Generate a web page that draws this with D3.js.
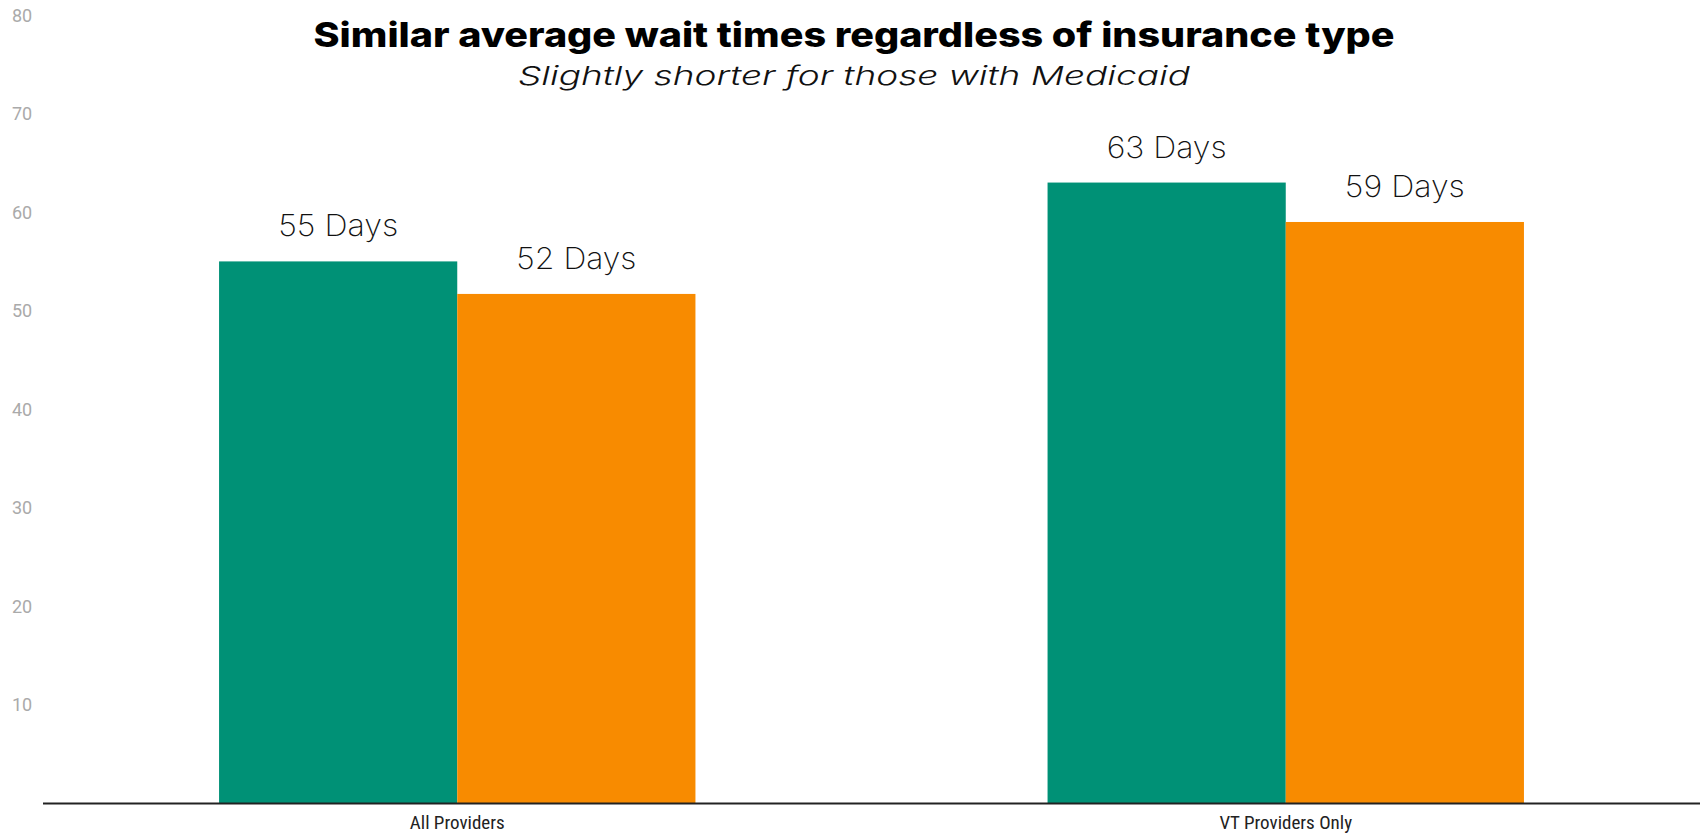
<!DOCTYPE html>
<html>
<head>
<meta charset="utf-8">
<script src="https://cdn.jsdelivr.net/npm/d3@7"></script>
<style>
  html, body { margin: 0; padding: 0; background: #fff; }
  svg { display: block; }
</style>
</head>
<body>
<svg id="chart" width="1700" height="835"></svg>
<script>
// ---- data ----
const categories = ["All Providers", "VT Providers Only"];
const seriesNames = ["Other insurance", "Medicaid"];
const seriesValues = [
  [55, 63],    // green series
  [51.7, 59]   // orange series
];
const yTicks = [10, 20, 30, 40, 50, 60, 70, 80];
const titleText = "Similar average wait times regardless of insurance type";
const subtitleText = "Slightly shorter for those with Medicaid";

(function () {
// ---- layout ----
const plotLeft = 43, plotRight = 1700, plotTop = 15, plotBottom = 803.5;
const colors = ["#009176", "#f88b00"];

const svg = d3.select("#chart");

const x0 = d3.scaleBand().domain(categories).range([plotLeft, plotRight])
  .paddingInner(0.425).paddingOuter(0.2125);
const x1 = d3.scaleBand().domain(seriesNames).range([0, x0.bandwidth()]).padding(0);
const y = d3.scaleLinear().domain([0, 80]).range([plotBottom, plotTop]);

// y tick labels (no lines)
svg.append("g").selectAll("text").data(yTicks).join("text")
  .attr("x", 12)
  .attr("y", d => y(d))
  .attr("dominant-baseline", "central")
  .attr("font-family", "Roboto, sans-serif")
  .attr("font-size", 18)
  .attr("fill", "#aaaaaa")
  .text(d => d);

// bars
const rows = [];
categories.forEach((c, ci) => seriesNames.forEach((s, si) => rows.push({c, s, si, v: seriesValues[si][ci]})));

svg.append("g").selectAll("rect").data(rows).join("rect")
  .attr("x", d => x0(d.c) + x1(d.s))
  .attr("width", x1.bandwidth())
  .attr("y", d => y(d.v))
  .attr("height", d => y(0) - y(d.v))
  .attr("fill", d => colors[d.si]);

// value labels
svg.append("g").selectAll("text").data(rows).join("text")
  .attr("x", d => x0(d.c) + x1(d.s) + x1.bandwidth() / 2)
  .attr("y", d => y(d.v) - 25)
  .attr("text-anchor", "middle")
  .attr("font-family", "Inter, 'Open Sans', sans-serif")
  .attr("font-weight", 200)
  .attr("font-size", 30)
  .attr("fill", "#111")
  .attr("textLength", 120).attr("lengthAdjust", "spacingAndGlyphs")
  .text(d => Math.round(d.v) + " Days");

// x axis
const xAxis = d3.axisBottom(x0).tickSize(0).tickPadding(12);
const gx = svg.append("g").attr("transform", `translate(0,${plotBottom})`).call(xAxis);
gx.select(".domain").attr("stroke", "#222").attr("stroke-width", 2)
  .attr("d", `M${plotLeft},0H${plotRight}`);
gx.selectAll("text")
  .attr("font-family", "'Roboto Condensed', 'Liberation Sans Narrow', Roboto, sans-serif")
  .attr("font-size", 19)
  .attr("fill", "#222");

// title & subtitle
svg.append("text")
  .attr("x", 854).attr("y", 46.5)
  .attr("text-anchor", "middle")
  .attr("font-family", "Inter, sans-serif")
  .attr("font-weight", 800)
  .attr("font-size", 34)
  .attr("fill", "#000")
  .attr("textLength", 1081).attr("lengthAdjust", "spacingAndGlyphs")
  .text(titleText);

svg.append("text")
  .attr("x", 854).attr("y", 85)
  .attr("text-anchor", "middle")
  .attr("font-family", "Inter, sans-serif")
  .attr("font-style", "italic")
  .attr("font-weight", 300)
  .attr("font-size", 26)
  .attr("fill", "#111")
  .attr("textLength", 672).attr("lengthAdjust", "spacingAndGlyphs")
  .text(subtitleText);
})();
</script>
</body>
</html>
